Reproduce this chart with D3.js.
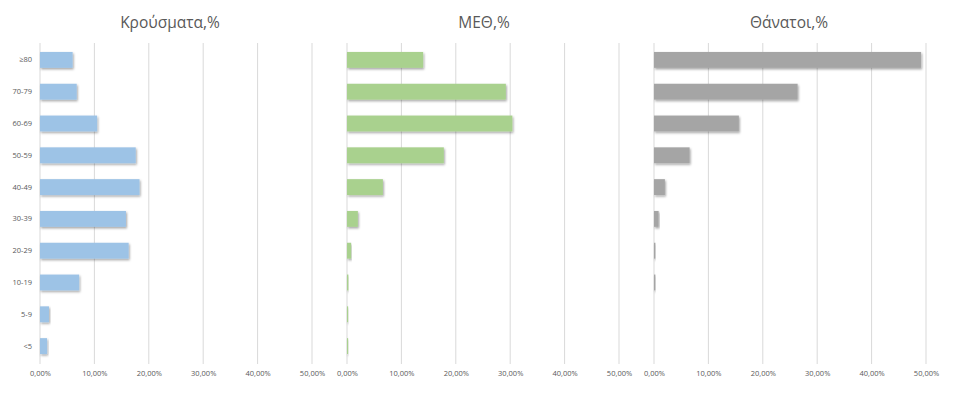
<!DOCTYPE html>
<html>
<head>
<meta charset="utf-8">
<script src="https://cdn.jsdelivr.net/npm/d3@7"></script>
<style>
  html, body { margin: 0; padding: 0; background: #fff; }
  svg { display: block; }
</style>
</head>
<body>
<svg id="chart" width="953" height="394"></svg>
<script>
const categories = ["≥80", "70-79", "60-69", "50-59", "40-49", "30-39", "20-29", "10-19", "5-9", "<5"];
const cases = [0.060, 0.0675, 0.105, 0.176, 0.183, 0.158, 0.163, 0.072, 0.0165, 0.013];
const icu = [0.140, 0.292, 0.304, 0.178, 0.066, 0.020, 0.0075, 0.0025, 0.002, 0.002];
const deaths = [0.491, 0.264, 0.156, 0.0655, 0.020, 0.0085, 0.0025, 0.0025, 0, 0];
const titles = ["Κρούσματα,%", "ΜΕΘ,%", "Θάνατοι,%"];
const tickValues = [0, 0.1, 0.2, 0.3, 0.4, 0.5];
const colors = ["#9DC3E6", "#A9D18E", "#A5A5A5"];

const panels = [
  { title: titles[0], values: cases, color: colors[0], x0: 40, titleX: 170 },
  { title: titles[1], values: icu, color: colors[1], x0: 347, titleX: 484 },
  { title: titles[2], values: deaths, color: colors[2], x0: 654, titleX: 789 }
];

const svg = d3.select("#chart");
const defs = svg.append("defs");
const f = defs.append("filter").attr("id", "shadow").attr("x", "-10%").attr("y", "-30%").attr("width", "130%").attr("height", "180%");
f.append("feDropShadow").attr("dx", 1).attr("dy", 1.5).attr("stdDeviation", 1.2).attr("flood-color", "#000").attr("flood-opacity", 0.35);

const y = d3.scaleBand().domain(categories).range([44, 362]).paddingInner(0.5).paddingOuter(0.25);
const fmt = v => d3.format(".2f")(v * 100).replace(".", ",") + "%";
const font = "'Open Sans', 'Noto Sans', sans-serif";

panels.forEach((p, i) => {
  const x = d3.scaleLinear().domain([0, 0.5]).range([p.x0, p.x0 + 272]);
  const g = svg.append("g");

  // gridlines
  g.selectAll("line.grid").data(tickValues).join("line")
    .attr("x1", d => x(d)).attr("x2", d => x(d))
    .attr("y1", 43).attr("y2", 364)
    .attr("stroke", "#D9D9D9").attr("stroke-width", 1);

  // bars
  g.selectAll("rect.bar").data(categories).join("rect")
    .attr("x", x(0))
    .attr("y", d => y(d))
    .attr("width", (d, k) => Math.max(0, x(p.values[k]) - x(0)))
    .attr("height", y.bandwidth())
    .attr("fill", p.color)
    .attr("filter", "url(#shadow)");

  // x axis tick labels
  const axis = d3.axisBottom(x).tickValues(tickValues).tickFormat(fmt).tickSize(0).tickPadding(0);
  const ag = g.append("g").attr("transform", "translate(0,371)").call(axis);
  ag.select(".domain").remove();
  ag.selectAll("text").attr("font-family", font).attr("font-size", 7.5).attr("fill", "#595959");

  // y axis labels (only first panel)
  if (i === 0) {
    const yAxis = d3.axisLeft(y).tickSize(0).tickPadding(8);
    const yg = g.append("g").attr("transform", `translate(${x(0)},0)`).call(yAxis);
    yg.select(".domain").remove();
    yg.selectAll("text").attr("font-family", font).attr("font-size", 7.5).attr("fill", "#595959");
  }

  // title
  svg.append("text")
    .attr("x", p.titleX).attr("y", 28)
    .attr("text-anchor", "middle")
    .attr("font-family", font)
    .attr("font-size", 15.5)
    .attr("fill", "#595959")
    .text(p.title);
});
</script>
</body>
</html>
